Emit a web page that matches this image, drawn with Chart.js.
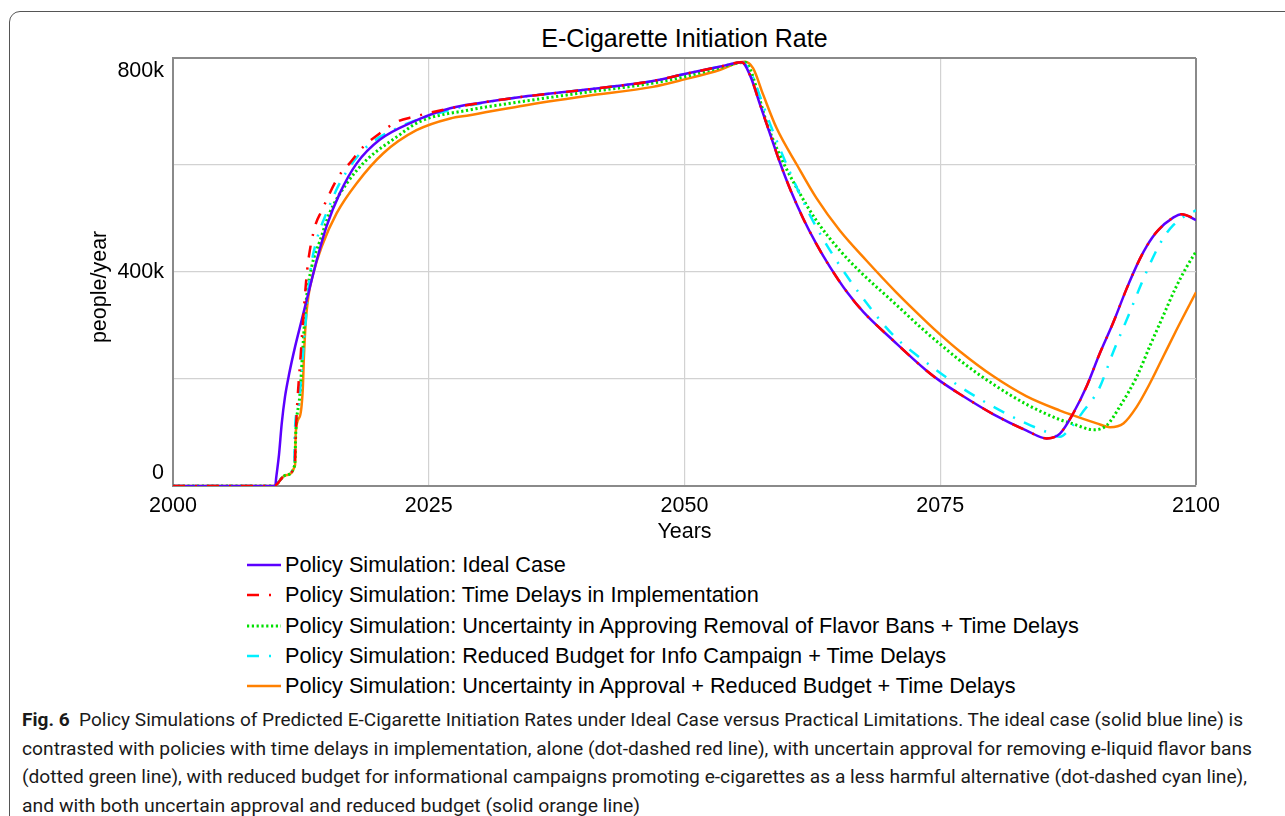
<!DOCTYPE html>
<html>
<head>
<meta charset="utf-8">
<script src="https://cdn.jsdelivr.net/npm/chart.js@4/dist/chart.umd.min.js"></script>
<style>
  html, body { margin:0; padding:0; width:1285px; height:816px; overflow:hidden; background:#fff; }
  #frame { position:absolute; left:9px; top:11px; width:1310px; height:900px; border:1.5px solid #555; border-radius:11px; box-sizing:border-box; }
  #title { position:absolute; left:384.5px; width:600px; top:23px; text-align:center; font-family:"Liberation Sans", Arial, sans-serif; font-size:25px; color:#000; line-height:30px; }
  #wrap { position:absolute; left:84px; top:0; width:1201px; height:550px; }
  #legend { position:absolute; left:0; top:0; font-family:"Liberation Sans", Arial, sans-serif; font-size:21.7px; color:#000; }
  .row { position:absolute; left:247px; height:30px; display:flex; align-items:center; white-space:nowrap; }
  .row svg { margin-right:4px; }
  .cap { position:absolute; left:22px; font-family:"Roboto", "Noto Sans", sans-serif; font-size:19px; color:#1a1a1a; white-space:nowrap; transform-origin:0 50%; line-height:26px; }
  .cap b { font-weight:700; }
</style>
</head>
<body>
<div id="frame"></div>
<div id="title">E-Cigarette Initiation Rate</div>
<div id="wrap"><canvas id="c" width="1201" height="550"></canvas></div>
<div id="legend"></div>
<div id="caption"></div>
<script>
// ---- Data (values in thousand people/year) ----
const xTickValues = [2000, 2025, 2050, 2075, 2100];
// multi-line labels push "0" up and "800k" down inside the plot frame, as in the original
const yTickLabels = { 0: ['0', ''], 400: '400k', 800: ['', '800k'] };

const seriesLabels = [
  'Policy Simulation: Ideal Case',
  'Policy Simulation: Time Delays in Implementation',
  'Policy Simulation: Uncertainty in Approving Removal of Flavor Bans + Time Delays',
  'Policy Simulation: Reduced Budget for Info Campaign + Time Delays',
  'Policy Simulation: Uncertainty in Approval + Reduced Budget + Time Delays'
];

const idealYears  = [2000, 2010, 2010.08, 2010.36, 2010.63, 2010.95, 2011.37, 2011.93, 2012.58, 2013.4, 2014.05, 2015.0, 2016.3, 2017.96, 2020.2, 2023.5, 2027.1, 2030, 2034, 2040.4, 2046.9, 2050, 2053.5, 2055.6, 2056.4, 2057.4, 2058.4, 2059.3, 2060.3, 2061.6, 2062.9, 2064.2, 2065.9, 2067.5, 2070.4, 2073.7, 2075, 2076.9, 2080.2, 2083.4, 2085.4, 2086.7, 2088.0, 2089.3, 2090.6, 2091.9, 2093.2, 2094.5, 2095.2, 2096.2, 2097.8, 2098.6, 2100];
const idealValues = [0, 0, 14, 58, 117, 167, 211, 260, 310, 373, 422, 485, 547, 603, 647, 681, 706, 716, 727, 741, 757, 770, 784, 792, 768, 712, 656, 606, 556, 500, 452, 410, 362, 325, 272, 215, 196, 172, 134, 104, 89, 98, 136, 186, 248, 305, 368, 424, 449, 476, 502, 508, 497];

const delayYears  = [2000, 2010, 2010.1, 2011.0, 2011.9, 2012.0, 2012.5, 2013.0, 2013.23, 2013.88, 2014.5, 2016.17, 2017.3, 2018.6, 2020.2, 2021.9, 2023.5, 2027.1, 2030, 2034, 2040.4, 2046.9, 2050, 2053.5, 2055.6, 2056.4, 2057.4, 2058.4, 2059.3, 2060.3, 2061.6, 2062.9, 2064.2, 2065.9, 2067.5, 2070.4, 2073.7, 2075, 2076.9, 2080.2, 2083.4, 2085.4, 2086.7, 2088.0, 2089.3, 2090.6, 2091.9, 2093.2, 2094.5, 2095.2, 2096.2, 2097.8, 2098.6, 2100];
const delayValues = [0, 0, 2, 20, 39, 99, 250, 380, 422, 485, 513, 578, 604, 634, 659, 681, 690, 706, 716, 727, 741, 757, 770, 784, 792, 768, 712, 656, 606, 556, 500, 452, 410, 362, 325, 272, 215, 196, 172, 134, 104, 89, 98, 136, 186, 248, 305, 368, 424, 449, 476, 502, 508, 499];

const flavorYears  = [2000, 2010, 2010.1, 2011.0, 2011.9, 2012.0, 2012.4, 2012.7, 2013.0, 2013.56, 2014.4, 2015.3, 2017.0, 2018.9, 2021.9, 2024.1, 2029, 2033.9, 2040.4, 2046.9, 2050, 2053.5, 2055.9, 2056.4, 2057.05, 2058.0, 2059.3, 2061.0, 2062.9, 2065.2, 2067.2, 2070.4, 2073.7, 2075, 2076.9, 2080.2, 2083.4, 2086.7, 2088.0, 2090.0, 2091.3, 2092.6, 2094.2, 2095.5, 2096.7, 2098.0, 2099.1, 2100];
const flavorValues = [0, 0, 2, 20, 39, 99, 170, 260, 342, 410, 460, 510, 566, 609, 653, 681, 703, 718, 736, 753, 765, 782, 792, 780, 743, 681, 619, 556, 496, 440, 400, 344, 286, 265, 235, 190, 153, 124, 116, 105, 114, 150, 204, 262, 314, 370, 410, 438];

const budgetYears  = [2000, 2010, 2010.1, 2011.0, 2011.86, 2011.9, 2012.25, 2012.58, 2012.9, 2013.4, 2014.05, 2015.0, 2016.3, 2018.6, 2021.9, 2027.1, 2030, 2034, 2040.4, 2046.9, 2050, 2053.5, 2055.6, 2056.5, 2057.5, 2058.5, 2060.0, 2062.3, 2064.5, 2067.8, 2070.4, 2073.7, 2076.9, 2080.2, 2083.4, 2085.4, 2086.7, 2087.7, 2089.0, 2090.5, 2091.9, 2093.45, 2094.9, 2096.6, 2097.8, 2099.4, 2100];
const budgetValues = [0, 0, 2, 20, 39, 99, 148, 217, 292, 398, 460, 510, 566, 628, 669, 703, 715, 727, 741, 757, 770, 784, 792, 772, 722, 670, 600, 505, 432, 342, 282, 230, 186, 148, 117, 101, 92, 108, 140, 181, 250, 321, 389, 457, 488, 510, 515];

const bothYears  = [2000, 2010, 2010.1, 2011.0, 2011.93, 2012.0, 2012.4, 2012.68, 2012.8, 2012.97, 2013.23, 2013.72, 2014.53, 2016.0, 2017.96, 2020.56, 2023.8, 2027.1, 2029, 2033.9, 2040.4, 2046.9, 2050, 2053.5, 2055.4, 2055.9, 2056.7, 2057.7, 2059.0, 2061.0, 2062.9, 2065.2, 2067.8, 2070.7, 2073.7, 2075.0, 2076.9, 2080.2, 2083.4, 2086.7, 2088.0, 2090.3, 2091.6, 2092.9, 2094.2, 2095.5, 2096.8, 2098.1, 2100];
const bothValues = [0, 0, 2, 20, 39, 101, 130, 179, 242, 305, 354, 398, 447, 510, 566, 622, 665, 687, 693, 710, 729, 746, 760, 778, 792, 793, 781, 731, 669, 600, 538, 477, 421, 362, 306, 283, 252, 205, 168, 141, 132, 117, 110, 117, 148, 192, 242, 292, 362];

const seriesColors = ['#5b00ff', '#ff0000', '#00e000', '#00f0ff', '#ff8000'];
const seriesDashes = [[], [12, 10, 2, 10], [2.2, 2.6], [12, 10, 2, 10], []];
const seriesWidths = [2.5, 2.5, 3, 2.5, 2.5];
const seriesOrder  = [2, 1, 4, 3, 5];

// ---- Build datasets ----
function pairs(xs, ys) { return xs.map((x, i) => ({ x: x, y: ys[i] })); }
const allYears  = [idealYears, delayYears, flavorYears, budgetYears, bothYears];
const allValues = [idealValues, delayValues, flavorValues, budgetValues, bothValues];

const datasets = seriesLabels.map((label, i) => ({
  label: label,
  data: pairs(allYears[i], allValues[i]),
  borderColor: seriesColors[i],
  backgroundColor: seriesColors[i],
  borderWidth: seriesWidths[i],
  borderDash: seriesDashes[i],
  pointRadius: 0,
  fill: false,
  cubicInterpolationMode: 'monotone',
  order: seriesOrder[i]
}));

const FONT = '"Liberation Sans", Arial, sans-serif';
const gridCol = (edgeVal) => (ctx) => (ctx.tick && ctx.tick.value === edgeVal) ? '#8a8a8a' : '#d2d2d2';
const gridW = (edgeVal) => (ctx) => (ctx.tick && ctx.tick.value === edgeVal) ? 2 : 1.2;

const chart = new Chart(document.getElementById('c'), {
  type: 'line',
  data: { datasets: datasets },
  options: {
    responsive: false,
    animation: false,
    layout: { padding: { top: 58, right: 89, left: 0, bottom: 0 } },
    plugins: { legend: { display: false }, title: { display: false }, tooltip: { enabled: false } },
    scales: {
      x: {
        type: 'linear', min: 2000, max: 2100,
        afterBuildTicks: (s) => { s.ticks = xTickValues.map(v => ({ value: v })); },
        ticks: { font: { family: FONT, size: 21.5 }, color: '#000', padding: 7, maxRotation: 0, autoSkip: false, callback: (v) => String(v) },
        grid: { color: gridCol(2100), lineWidth: gridW(2100), drawTicks: false },
        border: { color: '#8a8a8a', width: 2 },
        title: { display: true, text: 'Years', color: '#000', font: { family: FONT, size: 21.5 }, padding: { top: 0, bottom: 5 } },
        afterFit: (s) => { s.height = 64; s.paddingLeft = 0; s.paddingRight = 0; }
      },
      y: {
        type: 'linear', min: 0, max: 800,
        ticks: { stepSize: 200, font: { family: FONT, size: 21.5 }, color: '#000', padding: 9,
                 callback: (v) => (yTickLabels[v] !== undefined ? yTickLabels[v] : '') },
        grid: { color: gridCol(800), lineWidth: gridW(800), drawTicks: false },
        border: { color: '#8a8a8a', width: 2 },
        title: { display: true, text: 'people/year     ', color: '#000', font: { family: FONT, size: 21.5 }, padding: { top: 3, bottom: 0 } },
        afterFit: (s) => { s.width = 89; s.paddingTop = 0; s.paddingBottom = 0; }
      }
    }
  }
});

// ---- HTML legend from the datasets ----
const legend = document.getElementById('legend');
chart.data.datasets.forEach((ds, i) => {
  const row = document.createElement('div');
  row.className = 'row';
  row.style.top = (550 + 30.3 * i) + 'px';
  const dash = ds.borderDash.length ? ds.borderDash.join(' ') : 'none';
  row.innerHTML = '<svg width="34" height="10"><line x1="0" y1="5" x2="34" y2="5" stroke="' + ds.borderColor +
    '" stroke-width="' + ds.borderWidth + '" stroke-dasharray="' + dash + '"/></svg><span>' + ds.label + '</span>';
  legend.appendChild(row);
});

// ---- Caption ----
const captionLines = [
  '<b>Fig. 6</b>&nbsp;&nbsp;Policy Simulations of Predicted E-Cigarette Initiation Rates under Ideal Case versus Practical Limitations. The ideal case (solid blue line) is',
  'contrasted with policies with time delays in implementation, alone (dot-dashed red line), with uncertain approval for removing e-liquid flavor bans',
  '(dotted green line), with reduced budget for informational campaigns promoting e-cigarettes as a less harmful alternative (dot-dashed cyan line),',
  'and with both uncertain approval and reduced budget (solid orange line)'
];
const captionWidths = [1221, 1230, 1225, 618];
const cap = document.getElementById('caption');
captionLines.forEach((t, i) => {
  const d = document.createElement('div');
  d.className = 'cap';
  d.style.top = (707 + 28.6 * i) + 'px';
  d.innerHTML = t;
  cap.appendChild(d);
  const w = d.getBoundingClientRect().width;
  d.style.transform = 'scaleX(' + (captionWidths[i] / w) + ')';
});
</script>
</body>
</html>
